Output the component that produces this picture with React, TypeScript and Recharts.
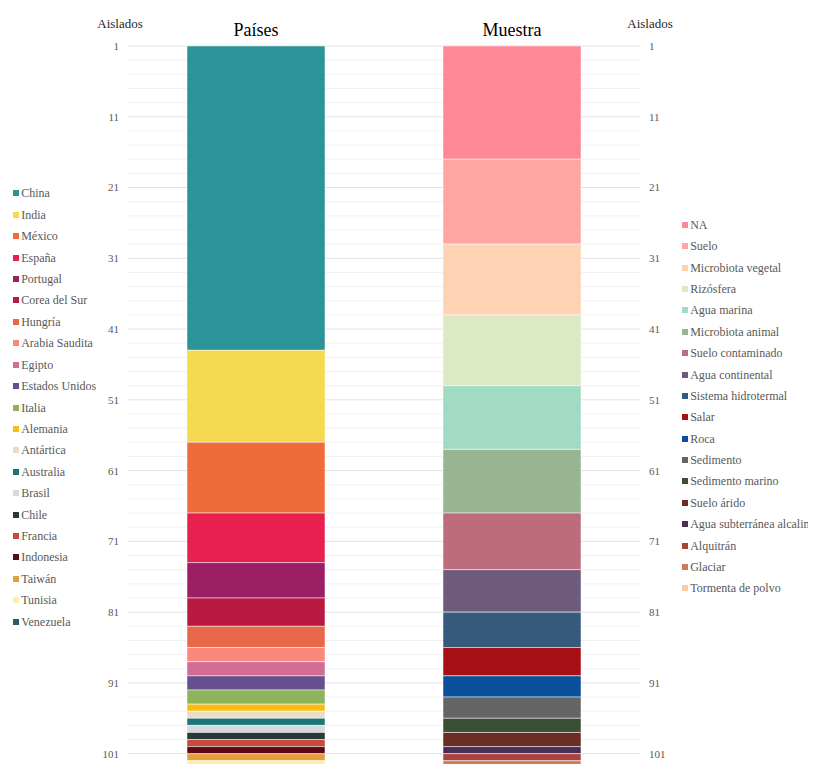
import React from 'react';
import { BarChart, Bar, XAxis, YAxis, CartesianGrid, Legend } from 'recharts';

// Two stacked columns: isolates by country of origin and by sample type.
const categories = ['Países', 'Muestra'];

const countryNames = [
  'China', 'India', 'México', 'España', 'Portugal', 'Corea del Sur', 'Hungría',
  'Arabia Saudita', 'Egipto', 'Estados Unidos', 'Italia', 'Alemania', 'Antártica',
  'Australia', 'Brasil', 'Chile', 'Francia', 'Indonesia', 'Taiwán', 'Tunisia', 'Venezuela',
];
const countryCounts = [43, 13, 10, 7, 5, 4, 3, 2, 2, 2, 2, 1, 1, 1, 1, 1, 1, 1, 1, 1, 1];
const countryColors = [
  '#2a9499', '#f5d94f', '#ef6b3a', '#e8204f', '#9c1f66', '#b81a41', '#e8694a',
  '#f9877a', '#d16c95', '#664f8f', '#8db45a', '#fbbc12', '#ebdcc4',
  '#1b7478', '#d6dada', '#263a3a', '#c84b3a', '#5c0a12', '#e39e3e', '#fff0a6', '#2c5a6a',
];

const sampleNames = [
  'NA', 'Suelo', 'Microbiota vegetal', 'Rizósfera', 'Agua marina', 'Microbiota animal',
  'Suelo contaminado', 'Agua continental', 'Sistema hidrotermal', 'Salar', 'Roca',
  'Sedimento', 'Sedimento marino', 'Suelo árido', 'Agua subterránea alcalina',
  'Alquitrán', 'Glaciar', 'Tormenta de polvo',
];
const sampleCounts = [16, 12, 10, 10, 9, 9, 8, 6, 5, 4, 3, 3, 2, 2, 1, 1, 1, 1];
const sampleColors = [
  '#ff8896', '#ffa6a2', '#ffd2b3', '#dde9c4', '#a2dbc3', '#98b592',
  '#bd6c7e', '#6e5a7c', '#355a7c', '#a50f15', '#0a4f9a',
  '#646464', '#3b4e36', '#6a2e24', '#4a2e55',
  '#a8423c', '#c97b5b', '#f5d0a3',
];

// Axis runs over isolate positions; labels are 1-based (1, 11, 21, ...).
const axisMax = 104;
const gridTicks = Array.from({ length: axisMax / 2 + 1 }, (_, i) => i * 2);
const labelStep = 10;

const data = [
  {
    name: categories[0],
    ...Object.fromEntries(countryNames.map((n, i) => [n, countryCounts[i]])),
  },
  {
    name: categories[1],
    ...Object.fromEntries(sampleNames.map((n, i) => [n, sampleCounts[i]])),
  },
];

const FONT = '"Liberation Serif", "Times New Roman", serif';

const formatTick = (v: number) => (v % labelStep === 0 ? String(v + 1) : '');

const renderGridLine = (props: any) => {
  const idx = typeof props.index === 'number' ? props.index : 0;
  const major = idx % (labelStep / 2) === 0;
  return (
    <line
      key={props.key}
      x1={props.x1}
      y1={props.y1}
      x2={props.x2}
      y2={props.y2}
      stroke={major ? '#e2e2e2' : '#f1f1f1'}
      strokeWidth={1}
    />
  );
};

const LegendColumn = ({ items, left, top, step }: any) => (
  <>
    {items.map((p: any, i: number) => (
      <div
        key={p.value}
        style={{
          position: 'absolute',
          left,
          top: top + i * step - 7,
          height: 14,
          lineHeight: '14px',
          whiteSpace: 'nowrap',
          fontFamily: FONT,
          fontSize: 12,
          color: '#595959',
          display: 'flex',
          alignItems: 'center',
        }}
      >
        <span
          style={{
            display: 'inline-block',
            width: 6,
            height: 6,
            background: p.color,
            marginRight: 2.5,
          }}
        />
        <span>{p.value}</span>
      </div>
    ))}
  </>
);

const inOrder = (payload: any[], names: string[]) =>
  payload
    .filter((p: any) => names.includes(p.value))
    .sort((a: any, b: any) => names.indexOf(a.value) - names.indexOf(b.value));

const renderLegend = (props: any) => {
  const payload = props.payload || [];
  return (
    <div style={{ position: 'relative', width: 808, height: 0 }}>
      <LegendColumn items={inOrder(payload, countryNames)} left={4.7} top={185.3} step={21.42} />
      <LegendColumn items={inOrder(payload, sampleNames)} left={673.7} top={217} step={21.37} />
    </div>
  );
};

const axisTitle = (xFromAxis: (vb: any) => number) => (props: any) => {
  const vb = props.viewBox || {};
  return (
    <text
      x={xFromAxis(vb)}
      y={(vb.y || 0) - 18.5}
      textAnchor="middle"
      fontFamily={FONT}
      fontSize={13}
      fill="#262626"
    >
      Aislados
    </text>
  );
};

export default function App() {
  return (
    <div style={{ width: 808, height: 772, overflow: 'hidden', marginBottom: -16 }}>
      <BarChart
        width={808}
        height={774}
        data={data}
        margin={{ top: 0, right: 8, bottom: 0, left: 0 }}
      >
        <CartesianGrid
          yAxisId="left"
          vertical={false}
          horizontal={renderGridLine}
        />
        <XAxis
          dataKey="name"
          orientation="top"
          height={38}
          axisLine={false}
          tickLine={false}
          tickSize={0}
          tickMargin={10}
          tick={{ fill: '#000000', fontSize: 18, fontFamily: FONT }}
        />
        <YAxis
          yAxisId="left"
          width={120}
          reversed
          domain={[0, axisMax]}
          ticks={gridTicks}
          interval={0}
          allowDataOverflow
          tickFormatter={formatTick}
          axisLine={false}
          tickLine={false}
          tickMargin={3}
          tick={{ fill: '#595959', fontSize: 11, fontFamily: FONT }}
          label={{ position: 'top', content: axisTitle((vb) => (vb.x || 0) + (vb.width || 0) - 8) }}
        />
        <YAxis
          yAxisId="right"
          orientation="right"
          width={168}
          reversed
          domain={[0, axisMax]}
          ticks={gridTicks}
          interval={0}
          allowDataOverflow
          tickFormatter={formatTick}
          axisLine={false}
          tickLine={false}
          tickMargin={3}
          tick={{ fill: '#595959', fontSize: 11, fontFamily: FONT, textAnchor: 'start' }}
          label={{ position: 'top', content: axisTitle((vb) => (vb.x || 0) + 10) }}
        />
        <Legend
          layout="horizontal"
          verticalAlign="middle"
          align="center"
          wrapperStyle={{ left: 0, top: 0, width: 808, height: 0 }}
          content={renderLegend}
        />
        {countryNames.map((n, i) => (
          <Bar
            key={n}
            yAxisId="left"
            dataKey={n}
            name={n}
            stackId="isolates"
            fill={countryColors[i]}
            stroke="#ffffff"
            strokeWidth={0.5}
            barSize={138}
            isAnimationActive={false}
          />
        ))}
        {sampleNames.map((n, i) => (
          <Bar
            key={n}
            yAxisId="left"
            dataKey={n}
            name={n}
            stackId="isolates"
            fill={sampleColors[i]}
            stroke="#ffffff"
            strokeWidth={0.5}
            barSize={138}
            isAnimationActive={false}
          />
        ))}
      </BarChart>
    </div>
  );
}
